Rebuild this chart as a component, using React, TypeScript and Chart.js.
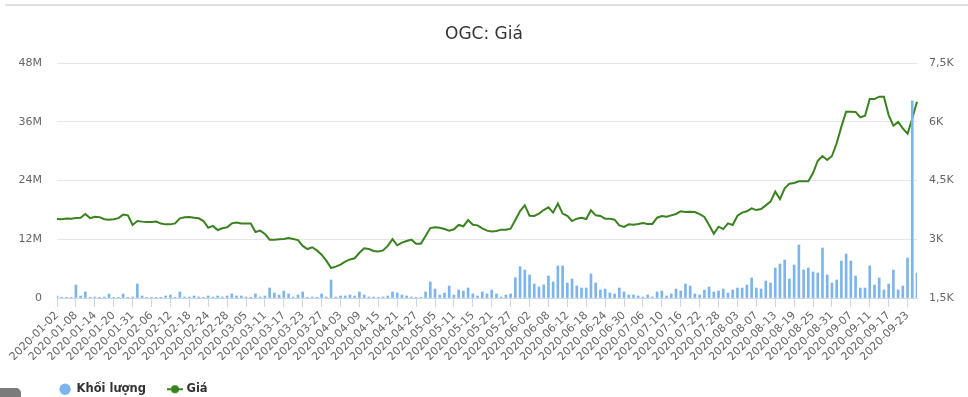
import React, { useEffect, useRef } from 'react';
import { Chart, registerables } from 'chart.js';

Chart.register(...registerables);

const TITLE = 'OGC: Giá';
const VOLUME_LABEL = 'Khối lượng';
const PRICE_LABEL = 'Giá';

// Trading days of 2020 (HOSE), by month
const DAYS_JAN = [2, 3, 6, 7, 8, 9, 10, 13, 14, 15, 16, 17, 20, 21, 22, 30, 31];
const DAYS_FEB = [3, 4, 5, 6, 7, 10, 11, 12, 13, 14, 17, 18, 19, 20, 21, 24, 25, 26, 27, 28];
const DAYS_MAR = [2, 3, 4, 5, 6, 9, 10, 11, 12, 13, 16, 17, 18, 19, 20, 23, 24, 25, 26, 27, 30, 31];
const DAYS_APR = [1, 3, 6, 7, 8, 9, 10, 13, 14, 15, 16, 17, 20, 21, 22, 23, 24, 27, 28, 29];
const DAYS_MAY = [4, 5, 6, 7, 8, 11, 12, 13, 14, 15, 18, 19, 20, 21, 22, 25, 26, 27, 28, 29];
const DAYS_JUN = [1, 2, 3, 4, 5, 8, 9, 10, 11, 12, 15, 16, 17, 18, 19, 22, 23, 24, 25, 26, 29, 30];
const DAYS_JUL = [1, 2, 3, 6, 7, 8, 9, 10, 13, 14, 15, 16, 17, 20, 21, 22, 23, 24, 27, 28, 29, 30, 31];
const DAYS_AUG = [3, 4, 5, 6, 7, 10, 11, 12, 13, 14, 17, 18, 19, 20, 21, 24, 25, 26, 27, 28, 31];
const DAYS_SEP = [1, 3, 4, 7, 8, 9, 10, 11, 14, 15, 16, 17, 18, 21, 22, 23, 24, 25];

const MONTHS: [number, number[]][] = [
  [1, DAYS_JAN], [2, DAYS_FEB], [3, DAYS_MAR], [4, DAYS_APR], [5, DAYS_MAY],
  [6, DAYS_JUN], [7, DAYS_JUL], [8, DAYS_AUG], [9, DAYS_SEP],
];
const pad2 = (n: number) => String(n).padStart(2, '0');
const DATES: string[] = MONTHS.flatMap(([m, ds]) => ds.map((d) => `2020-${pad2(m)}-${pad2(d)}`));
const LABEL_EVERY = 4;

// Volume, millions of shares
const VOLUME_M = [
  0.41, 0.14, 0.14, 0.14, 2.66, 0.41, 1.23, 0.05, 0.2, 0.05,
  0.2, 0.82, 0.05, 0.05, 0.82, 0.05, 0.2, 2.86, 0.41, 0.05,
  0.05, 0.05, 0.05, 0.41, 0.61, 0.05, 1.23, 0.2, 0.2, 0.41,
  0.2, 0.05, 0.41, 0.2, 0.41, 0.2, 0.41, 0.82, 0.41, 0.41,
  0.2, 0.05, 0.82, 0.2, 0.41, 2.04, 1.02, 0.61, 1.43, 0.82,
  0.2, 0.61, 1.23, 0.05, 0.2, 0.05, 0.82, 0.2, 3.68, 0.2,
  0.41, 0.41, 0.61, 0.41, 1.23, 0.61, 0.2, 0.2, 0.05, 0.2,
  0.41, 1.23, 1.02, 0.61, 0.41, 0.2, 0.05, 0.05, 1.23, 3.27,
  1.84, 0.61, 1.02, 2.45, 0.61, 1.63, 1.43, 2.04, 0.82, 0.41,
  1.23, 0.82, 1.63, 0.82, 0.2, 0.61, 0.82, 4.15, 6.4, 5.72,
  4.7, 2.86, 2.25, 2.66, 4.49, 3.27, 6.54, 6.54, 3.06, 3.88,
  2.45, 2.04, 2.04, 4.9, 3.06, 1.63, 1.84, 1.02, 0.82, 2.04,
  1.23, 0.61, 0.61, 0.41, 0.2, 0.61, 0.2, 1.23, 1.43, 0.41,
  0.82, 1.84, 1.43, 2.86, 2.45, 0.82, 0.61, 1.6, 2.25, 1.23,
  1.43, 1.84, 1.02, 1.63, 2.04, 2.04, 2.66, 4.09, 2.04, 1.84,
  3.47, 3.06, 6.13, 6.95, 7.76, 3.88, 6.74, 10.83, 5.72, 6.13,
  5.31, 5.11, 10.22, 4.7, 3.06, 3.68, 7.56, 8.99, 7.56, 4.49,
  2.04, 2.04, 6.54, 2.66, 4.09, 1.63, 2.86, 5.72, 1.63, 2.45,
  8.17, 40.25, 5.11,
];

// Close price (VND)
const PRICE = [
  3520, 3510, 3530, 3525, 3540, 3550, 3645, 3540, 3575, 3565,
  3510, 3500, 3510, 3540, 3630, 3610, 3365, 3465, 3450, 3440,
  3440, 3450, 3400, 3380, 3380, 3405, 3535, 3560, 3565, 3550,
  3535, 3465, 3295, 3340, 3235, 3280, 3305, 3405, 3425, 3405,
  3400, 3400, 3185, 3220, 3135, 2990, 2990, 3000, 3005, 3030,
  3005, 2980, 2830, 2750, 2795, 2715, 2605, 2455, 2265, 2300,
  2350, 2430, 2485, 2515, 2655, 2770, 2750, 2700, 2690, 2715,
  2830, 3000, 2845, 2915, 2955, 2990, 2885, 2885, 3085, 3285,
  3305, 3295, 3260, 3220, 3255, 3365, 3330, 3490, 3370, 3355,
  3280, 3220, 3200, 3210, 3245, 3245, 3270, 3490, 3720, 3865,
  3600, 3595, 3655, 3745, 3815, 3680, 3910, 3655, 3600, 3465,
  3525, 3550, 3515, 3740, 3610, 3595, 3525, 3525, 3500, 3355,
  3315, 3380, 3370, 3390, 3415, 3390, 3390, 3550, 3595, 3575,
  3610, 3645, 3715, 3695, 3705, 3695, 3640, 3570, 3365, 3140,
  3320, 3260, 3405, 3365, 3600, 3680, 3715, 3790, 3745, 3770,
  3865, 3960, 4215, 4025, 4300, 4420, 4435, 4480, 4480, 4480,
  4690, 5005, 5125, 5025, 5125, 5450, 5875, 6255, 6255, 6250,
  6115, 6155, 6580, 6580, 6640, 6640, 6170, 5900, 5995, 5830,
  5695, 6085, 6510,
];

const VOLUME_MIN = 0;
const VOLUME_MAX = 48;
const VOLUME_STEP = 12;
const PRICE_MIN = 1500;
const PRICE_MAX = 7500;
const PRICE_STEP = 1500;

const BLUE = '#7cb5ec';
const GREEN = '#3a821f';
const AXIS = '#ccd6eb';
const FONT = "'DejaVu Sans', sans-serif";

const CANVAS_W = 968;
const CANVAS_H = 405;

function makeMarker(): HTMLCanvasElement {
  const c = document.createElement('canvas');
  c.width = 16;
  c.height = 10;
  const ctx = c.getContext('2d')!;
  ctx.strokeStyle = GREEN;
  ctx.lineWidth = 2;
  ctx.beginPath();
  ctx.moveTo(0, 5);
  ctx.lineTo(16, 5);
  ctx.stroke();
  ctx.fillStyle = GREEN;
  ctx.beginPath();
  ctx.arc(8, 5, 4, 0, Math.PI * 2);
  ctx.fill();
  return c;
}

const legendShift = {
  id: 'legendShift',
  afterLayout(chart: any) {
    if (chart.legend) chart.legend.left = 36;
  },
};

export default function App() {
  const ref = useRef<HTMLCanvasElement | null>(null);

  useEffect(() => {
    if (!ref.current) return;
    const marker = makeMarker();
    const chart = new Chart(ref.current, {
      type: 'bar',
      data: {
        labels: DATES,
        datasets: [
          {
            type: 'bar',
            label: VOLUME_LABEL,
            data: VOLUME_M,
            yAxisID: 'y',
            backgroundColor: BLUE,
            borderWidth: 0,
            barThickness: 2,
            pointStyle: 'circle',
          } as any,
          {
            type: 'line',
            label: PRICE_LABEL,
            data: PRICE,
            yAxisID: 'y1',
            borderColor: GREEN,
            backgroundColor: GREEN,
            borderWidth: 2,
            pointRadius: 0,
            pointHoverRadius: 0,
            pointStyle: marker,
            tension: 0,
            fill: false,
          } as any,
        ],
      },
      options: {
        responsive: false,
        maintainAspectRatio: false,
        animation: false,
        events: [],
        layout: { padding: 0 },
        plugins: {
          title: {
            display: true,
            text: TITLE,
            color: '#333333',
            font: { family: FONT, size: 17, weight: 'normal' },
            padding: { top: 24, bottom: 18.6 },
          },
          legend: {
            display: true,
            position: 'bottom',
            align: 'start',
            labels: {
              usePointStyle: true,
              boxHeight: 8,
              boxWidth: 11.5,
              padding: 23.3,
              color: '#333333',
              font: { family: FONT, size: 11.5, weight: 'bold' },
            },
          },
          tooltip: { enabled: false },
        },
        scales: {
          x: {
            type: 'category',
            offset: false,
            grid: {
              offset: false,
              drawOnChartArea: false,
              drawTicks: true,
              tickLength: 9,
              lineWidth: 1,
              color: (c: any) => (c.index % LABEL_EVERY === 0 ? AXIS : 'rgba(0,0,0,0)'),
            },
            border: { display: true, color: AXIS, width: 1 },
            ticks: {
              autoSkip: false,
              minRotation: 45,
              maxRotation: 45,
              padding: 2,
              color: '#666666',
              font: { family: FONT, size: 11 },
              callback: (_v: any, i: number) => (i % LABEL_EVERY === 0 ? DATES[i] : ''),
            },
            afterFit: (s: any) => {
              s.height = 62.2;
            },
          },
          y: {
            position: 'left',
            min: VOLUME_MIN,
            max: VOLUME_MAX,
            grid: { color: '#e6e6e6', drawTicks: false, lineWidth: 1 },
            border: { display: false },
            ticks: {
              stepSize: VOLUME_STEP,
              padding: 15,
              color: '#666666',
              font: { family: FONT, size: 11 },
              callback: (v: any) => (Number(v) === 0 ? '0' : `${v}M`),
            },
            afterFit: (s: any) => {
              s.width = 57;
            },
          },
          y1: {
            position: 'right',
            min: PRICE_MIN,
            max: PRICE_MAX,
            grid: { drawOnChartArea: false, drawTicks: false },
            border: { display: false },
            ticks: {
              stepSize: PRICE_STEP,
              padding: 12,
              color: '#666666',
              font: { family: FONT, size: 11 },
              callback: (v: any) => `${String(Number(v) / 1000).replace('.', ',')}K`,
            },
            afterFit: (s: any) => {
              s.width = 51;
            },
          },
        },
      },
      plugins: [legendShift],
    } as any);
    return () => chart.destroy();
  }, []);

  return (
    <div
      style={{
        position: 'absolute',
        left: 0,
        top: 0,
        width: 968,
        height: 397,
        overflow: 'hidden',
        background: '#ffffff',
      }}
    >
      <div
        style={{
          position: 'absolute',
          left: 5,
          top: 4,
          width: 963,
          height: 2,
          background: '#e0e0e0',
        }}
      />
      <canvas
        ref={ref}
        width={CANVAS_W}
        height={CANVAS_H}
        style={{ position: 'absolute', left: 0, top: 0, width: CANVAS_W, height: CANVAS_H }}
      />
      <div
        style={{
          position: 'absolute',
          left: -5,
          top: 388,
          width: 26,
          height: 20,
          borderRadius: 5,
          background: '#7b7b7b',
        }}
      />
    </div>
  );
}
